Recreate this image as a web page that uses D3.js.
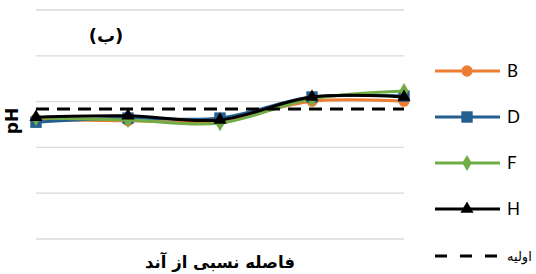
<!DOCTYPE html>
<html>
<head>
<meta charset="utf-8">
<script src="https://cdn.jsdelivr.net/npm/d3@7"></script>
<style>
    body { margin: 0; background: #fff; }
    svg { display: block; }
</style>
</head>
<body>
<svg id="chart" width="536" height="274"></svg>
<script>
(function() {
    // relative distance points along the cell (no tick labels shown)
    var categories = ["0", "0.25", "0.5", "0.75", "1"];

    var ph_B = [6.62, 6.58, 6.58, 7.01, 7.01];
    var ph_D = [6.55, 6.64, 6.64, 7.10, 7.12];
    var ph_F = [6.64, 6.60, 6.53, 7.06, 7.23];
    var ph_H = [6.66, 6.69, 6.60, 7.10, 7.10];
    var ph_initial = 6.84;

    var y_ticks = [4, 5, 6, 7, 8, 9];

    var series = [
        {name: "B", values: ph_B, color: "#ED7D31", marker: "circle"},
        {name: "D", values: ph_D, color: "#255E91", marker: "square"},
        {name: "F", values: ph_F, color: "#70AD47", marker: "diamond"},
        {name: "H", values: ph_H, color: "#000000", marker: "triangle"}
    ];

    var svg = d3.select("#chart");

    var x = d3.scalePoint()
        .domain(categories)
        .range([36, 404])
        .padding(0);

    var y = d3.scaleLinear()
        .domain([4, 9])
        .range([239, 10]);

    // gridlines
    svg.append("g")
        .selectAll("line")
        .data(y_ticks)
        .enter()
        .append("line")
        .attr("x1", 36)
        .attr("x2", 404)
        .attr("y1", function(d) { return y(d); })
        .attr("y2", function(d) { return y(d); })
        .attr("stroke", "#d9d9d9")
        .attr("stroke-width", 1.3);

    var line = d3.line()
        .x(function(d, i) { return x(categories[i]); })
        .y(function(d) { return y(d); })
        .curve(d3.curveCatmullRom.alpha(0.5));

    var symbols = {
        circle: d3.symbol().type(d3.symbolCircle).size(100),
        square: d3.symbol().type(d3.symbolSquare).size(130),
        diamond: d3.symbol().type(d3.symbolDiamond).size(75),
        triangle: d3.symbol().type(d3.symbolTriangle).size(75)
    };

    var g = svg.append("g")
        .selectAll("g")
        .data(series)
        .enter()
        .append("g");

    g.append("path")
        .attr("d", function(d) { return line(d.values); })
        .attr("fill", "none")
        .attr("stroke", function(d) { return d.color; })
        .attr("stroke-width", 3);

    g.each(function(s) {
        d3.select(this)
            .selectAll("path.mk")
            .data(s.values)
            .enter()
            .append("path")
            .attr("class", "mk")
            .attr("d", symbols[s.marker])
            .attr("transform", function(d, i) {
                return "translate(" + x(categories[i]) + "," + y(d) + ")";
            })
            .attr("fill", s.color);
    });

    // initial pH
    svg.append("line")
        .attr("x1", x(categories[0]))
        .attr("x2", x(categories[categories.length - 1]))
        .attr("y1", y(ph_initial))
        .attr("y2", y(ph_initial))
        .attr("stroke", "#000")
        .attr("stroke-width", 3)
        .attr("stroke-dasharray", "13,8");

    // legend
    var leg = svg.append("g");
    var rowY = [71, 117, 163, 209];

    series.forEach(function(s, i) {
        leg.append("line")
            .attr("x1", 435).attr("x2", 500)
            .attr("y1", rowY[i]).attr("y2", rowY[i])
            .attr("stroke", s.color)
            .attr("stroke-width", 3);
        leg.append("path")
            .attr("d", symbols[s.marker])
            .attr("transform", "translate(467," + rowY[i] + ")")
            .attr("fill", s.color);
        leg.append("text")
            .attr("x", 507)
            .attr("y", rowY[i] + 6)
            .attr("font-family", "Lato, 'Liberation Sans', sans-serif")
            .attr("font-size", 17)
            .attr("fill", "#000")
            .text(s.name);
    });

    leg.append("line")
        .attr("x1", 435).attr("x2", 500)
        .attr("y1", 256).attr("y2", 256)
        .attr("stroke", "#000")
        .attr("stroke-width", 3)
        .attr("stroke-dasharray", "12,13");
    leg.append("text")
        .attr("x", 507)
        .attr("y", 261)
        .attr("font-family", "'DejaVu Sans', sans-serif")
        .attr("font-size", 13)
        .attr("fill", "#000")
        .text("اولیه");

    // titles
    svg.append("text")
        .attr("x", 106)
        .attr("y", 42)
        .attr("text-anchor", "middle")
        .attr("font-family", "'DejaVu Sans', sans-serif")
        .attr("font-size", 18)
        .attr("font-weight", "bold")
        .text("(ب)");

    svg.append("text")
        .attr("x", 220)
        .attr("y", 268)
        .attr("text-anchor", "middle")
        .attr("font-family", "'DejaVu Sans', sans-serif")
        .attr("font-size", 16.5)
        .attr("font-weight", "bold")
        .text("فاصله نسبی از آند");

    svg.append("text")
        .attr("transform", "translate(18,121) rotate(-90)")
        .attr("text-anchor", "middle")
        .attr("font-family", "'DejaVu Sans', sans-serif")
        .attr("font-size", 17)
        .attr("font-weight", "bold")
        .text("pH");
}());
</script>
</body>
</html>
